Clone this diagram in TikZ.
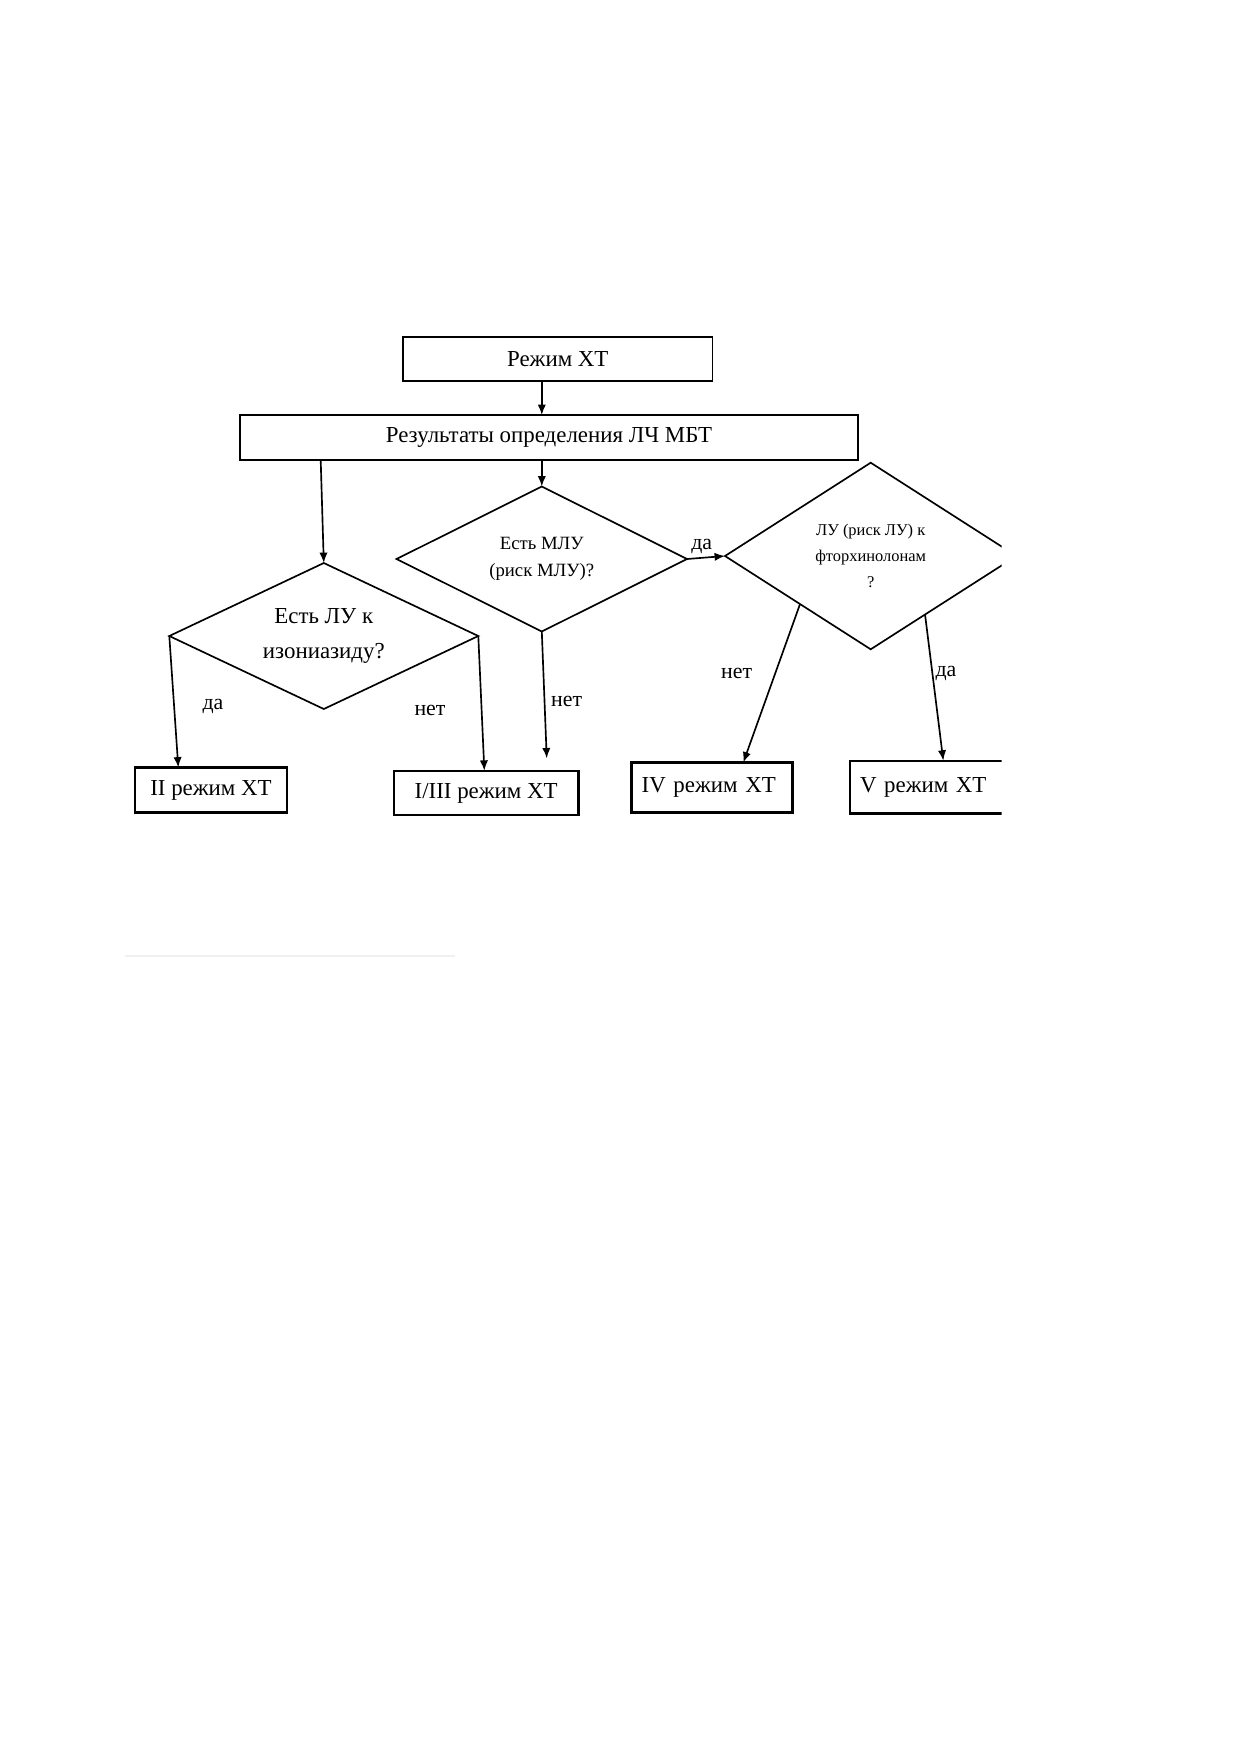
\documentclass[tikz,border=0pt]{standalone}
\usepackage{fontspec}
\setmainfont{Liberation Serif}
\usetikzlibrary{shapes.geometric,arrows.meta,calc}
\newcommand\pxu{0.4805pt}
\begin{document}
\begin{tikzpicture}[x=0.4805pt,y=-0.4805pt,
  box/.style={draw, rectangle, line width=0.9pt, inner sep=0pt, outer sep=0pt,
    font=\fontsize{11}{13}\selectfont},
  resbox/.style={box, line width=1.15pt},
  dia/.style={draw, diamond, line width=0.8pt, inner sep=0pt, outer sep=0pt, align=center},
  arr/.style={line width=0.8pt, -{Latex[length=5pt,width=4pt]}},
  lbl/.style={font=\fontsize{10.5}{12}\selectfont, inner sep=0pt}
]
\useasboundingbox (0,0) rectangle (1239,1754);
\fill[white] (0,0) rectangle (1239,1754);
\begin{scope}
\clip (0,0) rectangle (1001.5,1754);
% boxes
\node[box, minimum width={309.5*\pxu}, minimum height={44.3*\pxu}] (box1) at (557.8,358.8) {Режим ХТ};
\node[box, minimum width={618*\pxu}, minimum height={45*\pxu}] (box2) at (549,437.5) {Результаты определения ЛЧ МБТ};
% diamonds
\node[dia, shape aspect=2.12, minimum width={309*\pxu}, minimum height={146*\pxu}, font=\fontsize{11}{17}\selectfont] (iz) at (323.8,636) {Есть ЛУ к\\изониазиду?};
\node[dia, shape aspect=2, minimum width={290.5*\pxu}, minimum height={145*\pxu}, font=\fontsize{9}{13.3}\selectfont] (mlu) at (541.8,559) {Есть МЛУ\\(риск МЛУ)?};
\node[dia, shape aspect=1.56, minimum width={291.4*\pxu}, minimum height={186.6*\pxu}, font=\fontsize{7.9}{12.4}\selectfont] (fq) at (870.7,556) {ЛУ (риск ЛУ) к\\фторхинолонам\\?};
% result boxes
\node[resbox, minimum width={152*\pxu}, minimum height={45*\pxu}] (II) at (211,790) {II режим ХТ};
\node[resbox, minimum width={184.3*\pxu}, minimum height={44.3*\pxu}] (I3) at (486.2,792.9) {I/III режим ХТ};
\node[resbox, line width=1.4pt, anchor=west, minimum height={50*\pxu}, text width={141*\pxu}, align=left, inner xsep={10*\pxu}] (IV) at (631.7,787.5) {IV режим ХТ};
\node[resbox, anchor=west, minimum height={52.6*\pxu}, text width={150*\pxu}, align=left, inner xsep={10*\pxu}] (V) at (850,787) {V режим ХТ};
% connectors
\draw[arr] (box1.south -| mlu.north) -- (box2.north -| mlu.north);
\draw[arr] (box2.south -| mlu.north) -- (mlu.north);
\draw[arr] ($(box2.south west)+(80.7,0)$) -- (iz.north);
\draw[arr] (iz.west) -- ($(II.north west)+(43.3,0)$);
\draw[arr] (iz.east) -- ($(I3.north west)+(90.3,0)$);
\coordinate (mlunet) at ($(I3.north west)+(152.7,-12.4)$);
\draw[arr] (mlu.south) -- (mlunet);
\draw[arr] (mlu.east) -- (fq.west);
\draw[arr] ($(fq.west)!0.515!(fq.south)$) -- ($(IV.north west)+(111.6,0)$);
\draw[arr] ($(fq.south)!0.373!(fq.east)$) -- ($(V.north west)+(93.3,0)$);
% labels
\node[lbl] (l1) at (213,706.7) {да};
\node[lbl] (l2) at (430,710) {нет};
\node[lbl] (l3) at (566.7,701.7) {нет};
\node[lbl] (l4) at (701.7,546) {да};
\node[lbl] (l5) at (736.7,673.3) {нет};
\node[lbl] (l6) at (946,673.3) {да};
\end{scope}
% faint separator remnant
\draw[black!6, line width=1pt] (125,955.7) -- (455,955.7);
\end{tikzpicture}
\end{document}
